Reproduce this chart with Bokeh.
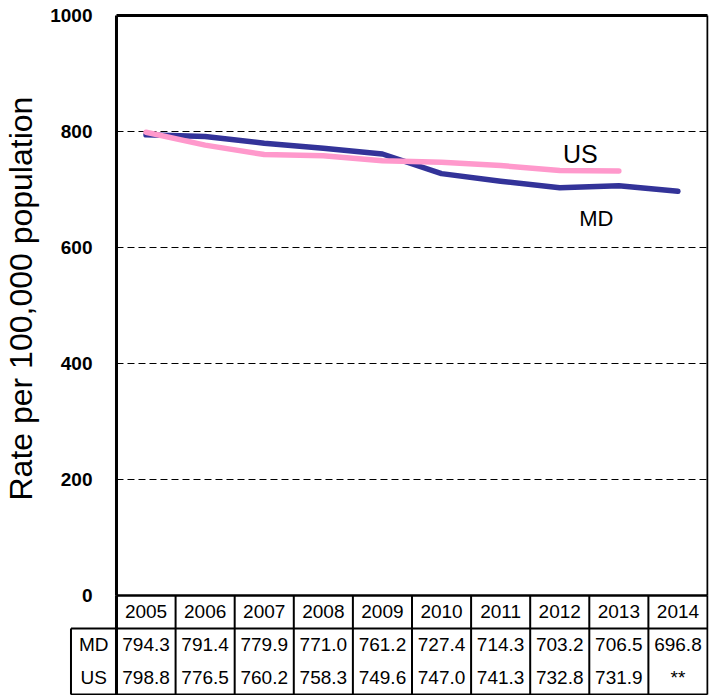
from bokeh.plotting import figure
from bokeh.models import FixedTicker, ColumnDataSource, Range1d, Title
from bokeh.core.properties import value
from bokeh.embed import file_html
from bokeh.resources import INLINE

# ---- data ----
years = [2005, 2006, 2007, 2008, 2009, 2010, 2011, 2012, 2013, 2014]
md_rate = [794.3, 791.4, 779.9, 771.0, 761.2, 727.4, 714.3, 703.2, 706.5, 696.8]
us_years = [2005, 2006, 2007, 2008, 2009, 2010, 2011, 2012, 2013]
us_rate = [798.8, 776.5, 760.2, 758.3, 749.6, 747.0, 741.3, 732.8, 731.9]
md_labels = ["794.3", "791.4", "779.9", "771.0", "761.2", "727.4", "714.3", "703.2", "706.5", "696.8"]
us_labels = ["798.8", "776.5", "760.2", "758.3", "749.6", "747.0", "741.3", "732.8", "731.9", "**"]
y_ticks = [0, 200, 400, 600, 800, 1000]
grid_levels = [200, 400, 600, 800]
row_names = ["MD", "US"]
y_title = "Rate per 100,000 population"

FONT = "Liberation Sans"
MD_COLOR = "#333399"
US_COLOR = "#FF99CC"

x_lo, x_hi = years[0] - 0.5, years[-1] + 0.5
y_lo, y_hi = y_ticks[0], y_ticks[-1]

# ---- one figure: chart on top, data table below the value axis ----
p = figure(width=709, height=695,
           x_range=Range1d(2003.705, 2014.517), y_range=Range1d(-172.41, 1003.45),
           toolbar_location=None, output_backend="svg", x_axis_location=None,
           min_border_left=69, min_border_right=1, min_border_top=13, min_border_bottom=0,
           outline_line_color=None, background_fill_color="white", border_fill_color="white")
p.extra_y_ranges = {"table": Range1d(-0.0303, 20.636)}
p.grid.visible = False

ax = p.yaxis[0]
ax.bounds = (y_lo, y_hi)
ax.ticker = FixedTicker(ticks=y_ticks)
ax.major_label_text_font = FONT
ax.major_label_text_font_style = "bold"
ax.major_label_text_font_size = "19px"
ax.major_label_text_color = "black"
ax.major_label_standoff = -23
ax.major_tick_in = 0
ax.major_tick_out = 0
ax.minor_tick_in = 0
ax.minor_tick_out = 0
ax.axis_line_color = None
# small blank spacer so that the rotated title sits further to the left
ax.axis_label = " "
ax.axis_label_text_font_size = "6px"
ax.axis_label_standoff = 0

# rotated value-axis title on the left, centred on the plot area (not the table)
p.add_layout(Title(text=y_title, align="left", offset=195, vertical_align="bottom",
                   standoff=0, text_font=FONT, text_font_size="32px",
                   text_font_style="normal", text_color="black"), "left")

# dashed grid lines
n = len(grid_levels)
p.segment(x0=[x_lo] * n, x1=[x_hi] * n, y0=grid_levels, y1=grid_levels,
          line_color="black", line_width=1, line_dash="7 4")

# plot area box
p.segment(x0=[x_lo], x1=[x_lo], y0=[y_lo], y1=[y_hi], line_color="black", line_width=3)
p.segment(x0=[x_hi], x1=[x_hi], y0=[y_lo], y1=[y_hi], line_color="black", line_width=2)
p.segment(x0=[x_lo], x1=[x_hi], y0=[y_hi], y1=[y_hi], line_color="black", line_width=3)
p.segment(x0=[x_lo], x1=[x_hi], y0=[y_lo], y1=[y_lo], line_color="black", line_width=2.5)

# series
p.line(years, md_rate, line_color=MD_COLOR, line_width=5.5, line_cap="round", line_join="round")
p.line(us_years, us_rate, line_color=US_COLOR, line_width=5.5, line_cap="round", line_join="round")

p.text(x=[2012.35], y=[762], text=["US"], text_font=value(FONT), text_font_size="25px",
       text_align="center", text_baseline="middle", text_color="black")
p.text(x=[2012.62], y=[650], text=["MD"], text_font=value(FONT), text_font_size="22px",
       text_align="center", text_baseline="middle", text_color="black")

# ---- data table (rows: 3 = header top, 2 = MD top, 1 = US top, 0 = bottom) ----
label_left = 2003.73
bounds = [y - 0.5 for y in years] + [x_hi]
nb = len(bounds)
p.segment(x0=bounds, x1=bounds, y0=[0] * nb, y1=[3] * nb,
          line_color="black", line_width=2, y_range_name="table")
p.segment(x0=[x_lo], x1=[x_lo], y0=[0], y1=[3], line_color="black", line_width=3,
          y_range_name="table")
p.segment(x0=[label_left], x1=[label_left], y0=[0], y1=[2], line_color="black", line_width=2,
          y_range_name="table")
p.segment(x0=[label_left, label_left], x1=[x_hi, x_hi], y0=[2, 0], y1=[2, 0],
          line_color="black", line_width=2, y_range_name="table")

ny = len(years)
tsrc = ColumnDataSource(dict(x=years, y=[2.5] * ny, text=[str(y) for y in years]))
p.text(x="x", y="y", text="text", source=tsrc, text_font=value(FONT), text_font_size="19px",
       text_align="center", text_baseline="middle", text_color="black", y_range_name="table")
p.text(x=years, y=[1.5] * ny, text=md_labels, text_font=value(FONT), text_font_size="19px",
       text_align="center", text_baseline="middle", text_color="black", y_range_name="table")
p.text(x=years, y=[0.5] * ny, text=us_labels, text_font=value(FONT), text_font_size="19px",
       text_align="center", text_baseline="middle", text_color="black", y_range_name="table")
label_center = (label_left + x_lo) / 2
p.text(x=[label_center] * 2, y=[1.5, 0.5], text=row_names, text_font=value(FONT),
       text_font_size="19px", text_align="center", text_baseline="middle", text_color="black",
       y_range_name="table")

open("out.html", "w").write(file_html(p, INLINE))
